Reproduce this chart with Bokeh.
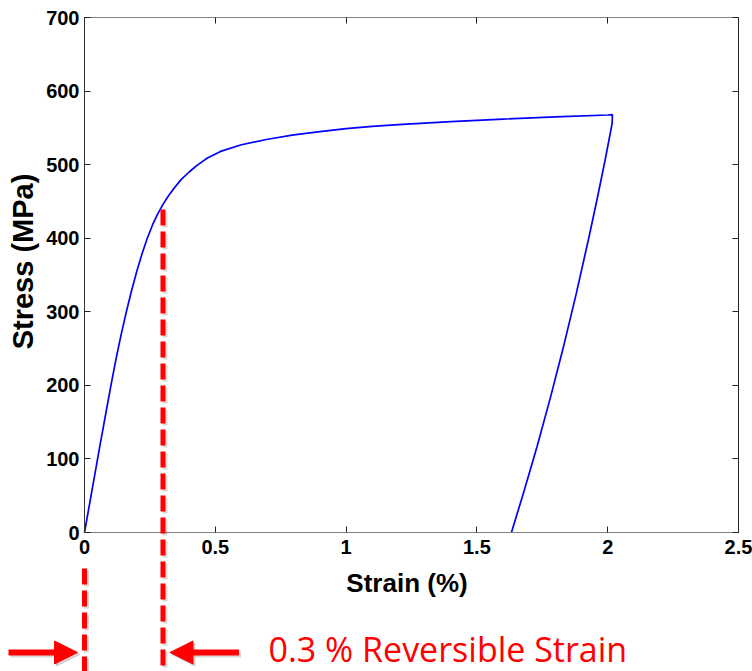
import math
from bokeh.plotting import figure
from bokeh.models import Range1d, FixedTicker, LinearAxis, Arrow, NormalHead, Label
from bokeh.embed import file_html
from bokeh.resources import INLINE

# ---- data ----
load_strain = [0.0, 0.02, 0.04, 0.06, 0.08, 0.10, 0.12, 0.14, 0.16, 0.18, 0.20,
               0.22, 0.24, 0.26, 0.28, 0.30, 0.32, 0.34, 0.37, 0.40, 0.43, 0.47,
               0.52, 0.6, 0.7, 0.8, 0.9, 1.0, 1.1, 1.2, 1.4, 1.6, 1.8, 2.0, 2.018]
load_stress = [0, 40, 80, 120, 159, 198, 235, 269, 300, 329, 355,
               379, 400, 418, 433, 446, 457, 467, 480, 490, 499, 509,
               518, 527, 534.5, 540.5, 545, 549, 552, 554.5, 558.5, 562, 565, 567.5, 568]
unload_strain = [2.018, 2.017, 1.99, 1.96, 1.93, 1.88, 1.83, 1.78, 1.73, 1.68, 1.632]
unload_stress = [568, 556, 506, 454, 404, 325, 251, 182, 117, 56, 0]

x_ticks = [0, 0.5, 1, 1.5, 2, 2.5]
x_tick_labels = ["0", "0.5", "1", "1.5", "2", "2.5"]
y_ticks = [0, 100, 200, 300, 400, 500, 600, 700]
x_min, x_max = 0, 2.5
y_min, y_max = 0, 700
x_label = "Strain (%)"
y_label = "Stress (MPa)"

rev_start = 0.0      # strain where the reversible region starts
rev_end = 0.3        # strain where the reversible region ends
rev_stress = 439     # stress where the marker meets the curve
note_text = "0.3 % Reversible Strain"

# ---- layout (canvas == page, frame covers the whole canvas) ----
W, H = 752, 671
AX_X0, AX_X1, AX_Y1, AX_Y0 = 84, 738, 17, 532    # pixel positions of the axes box
px_x = (x_max - x_min) / (AX_X1 - AX_X0)
px_y = (y_max - y_min) / (AX_Y0 - AX_Y1)

def dx(px):  # page x pixel -> data x
    return x_min + (px - AX_X0) * px_x

def dy(py):  # page y pixel -> data y
    return y_min + (AX_Y0 - py) * px_y

p = figure(width=W, height=H, x_range=Range1d(dx(0), dx(W)), y_range=Range1d(dy(H), dy(0)),
           output_backend="svg", toolbar_location=None,
           min_border_left=0, min_border_right=0, min_border_top=0, min_border_bottom=0)
p.outline_line_color = None
p.xgrid.visible = False
p.ygrid.visible = False
p.background_fill_color = "white"
p.border_fill_color = "white"

tick_font = "Liberation Sans"
for ax in (p.xaxis[0], p.yaxis[0]):
    ax.major_label_text_font = tick_font
    ax.major_label_text_font_style = "bold"
    ax.major_label_text_font_size = "20px"
    ax.major_label_text_color = "black"
    ax.major_tick_in = 6
    ax.major_tick_out = 0
    ax.minor_tick_line_color = None
    ax.major_tick_line_color = "#222222"

xa = p.xaxis[0]
xa.ticker = FixedTicker(ticks=x_ticks)
xa.major_label_overrides = {t: l for t, l in zip(x_ticks, x_tick_labels)}
xa.fixed_location = y_min
xa.bounds = (x_min, x_max)
xa.major_label_standoff = 7
xa.axis_line_color = "#808080"

ya = p.yaxis[0]
ya.ticker = FixedTicker(ticks=y_ticks)
ya.fixed_location = x_min
ya.bounds = (y_min, y_max)
ya.major_label_standoff = 5
ya.axis_line_color = "#333333"

top = LinearAxis(ticker=FixedTicker(ticks=x_ticks), fixed_location=y_max, bounds=(x_min, x_max),
                 major_label_overrides={t: "" for t in x_ticks},
                 major_label_standoff=0, major_tick_in=6, major_tick_out=0,
                 minor_tick_line_color=None, axis_line_color="#808080",
                 major_tick_line_color="#222222")
right = LinearAxis(ticker=FixedTicker(ticks=y_ticks), fixed_location=x_max, bounds=(y_min, y_max),
                   major_label_overrides={t: "" for t in y_ticks},
                   major_label_standoff=0, major_tick_in=6, major_tick_out=0,
                   minor_tick_line_color=None, axis_line_color="#222222",
                   major_tick_line_color="#222222")
p.add_layout(top, "above")
p.add_layout(right, "right")

# axis titles
p.add_layout(Label(x=dx(406.5), y=dy(582), text=x_label, text_font=tick_font,
                   text_font_style="bold", text_font_size="26px", text_color="black",
                   text_align="center", text_baseline="middle"))
p.add_layout(Label(x=dx(22.5), y=dy(261), text=y_label, text_font=tick_font, angle=math.pi / 2,
                   text_font_style="bold", text_font_size="29px", text_color="black",
                   text_align="center", text_baseline="middle"))

# ---- curve ----
strain_all = load_strain + unload_strain
stress_all = load_stress + unload_stress
p.line(strain_all, stress_all, line_color="#0000FF", line_width=1.7)

# ---- reversible-strain markers ----
y_end = dy(H + 5)
dash_top0 = dy(568)          # x=0 marker starts below the tick labels
arrow_y = dy(652)
gap = 7 * px_x
alen = 69 * px_x
sdx, sdy = 2 * px_x, -2 * px_y

def dashed(x, y0, color, alpha):
    return Arrow(start=None, end=None, x_start=x, y_start=y0, x_end=x, y_end=y_end,
                 line_color=color, line_alpha=alpha, line_width=5, line_dash="16 6",
                 level="overlay")

def arrow(x0, x1, y, color, alpha):
    return Arrow(end=NormalHead(size=23, fill_color=color, fill_alpha=alpha,
                                line_color=color, line_alpha=alpha, line_width=1),
                 x_start=x0, y_start=y, x_end=x1, y_end=y,
                 line_color=color, line_alpha=alpha, line_width=6, level="overlay")

# soft shadows
p.add_layout(dashed(rev_end + sdx, rev_stress + sdy, "#000000", 0.15))
p.add_layout(dashed(rev_start + sdx, dash_top0 + sdy, "#000000", 0.15))
p.add_layout(arrow(rev_start - gap - alen + sdx, rev_start - gap + sdx, arrow_y + sdy, "#000000", 0.15))
p.add_layout(arrow(rev_end + gap + alen + sdx, rev_end + gap + sdx, arrow_y + sdy, "#000000", 0.15))
# red markers
p.add_layout(dashed(rev_end, rev_stress, "#FF0000", 1.0))
p.add_layout(dashed(rev_start, dash_top0, "#FF0000", 1.0))
p.add_layout(arrow(rev_start - gap - alen, rev_start - gap, arrow_y, "#FF0000", 1.0))
p.add_layout(arrow(rev_end + gap + alen, rev_end + gap, arrow_y, "#FF0000", 1.0))

p.add_layout(Label(x=rev_end + 105.5 * px_x, y=dy(648), text=note_text,
                   text_font="Open Sans", text_font_size="34px", text_color="#FF0000",
                   text_align="left", text_baseline="middle", level="overlay"))

open("out.html", "w").write(file_html(p, INLINE))
